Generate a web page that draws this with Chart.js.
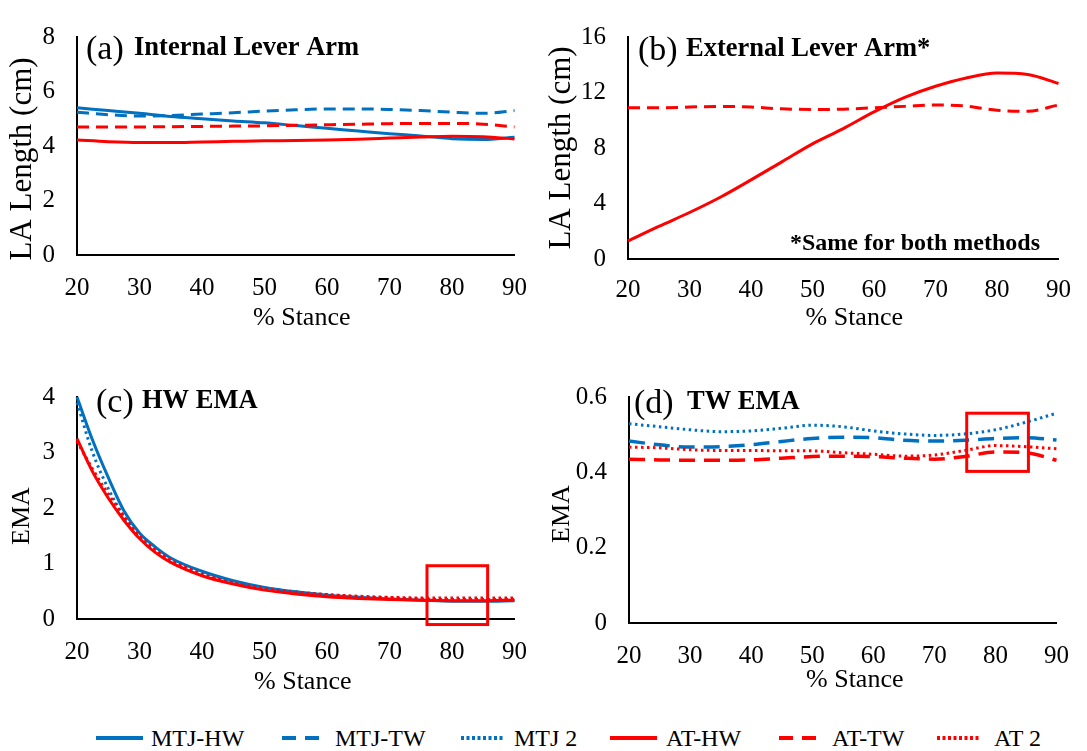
<!DOCTYPE html>
<html>
<head>
<meta charset="utf-8">
<script src="https://cdn.jsdelivr.net/npm/chart.js@4.4.1/dist/chart.umd.min.js"></script>
<style>
    body { margin: 0; background: #fff; width: 1087px; height: 751px; position: relative; overflow: hidden;
           font-family: "Liberation Serif", "Times New Roman", serif; }
    canvas { position: absolute; }
    #legend { position: absolute; left: 0; top: 724px; width: 1087px; height: 28px; }
    .item { position: absolute; top: 0; height: 28px; display: flex; align-items: center; font-size: 24px; color: #000; white-space: nowrap; }
</style>
</head>
<body>
<canvas id="chartA" width="545" height="340" style="left:0;top:0"></canvas>
<canvas id="chartB" width="542" height="340" style="left:545px;top:0"></canvas>
<canvas id="chartC" width="545" height="340" style="left:0;top:360px"></canvas>
<canvas id="chartD" width="542" height="340" style="left:545px;top:360px"></canvas>
<div id="legend"></div>
<script>
// --- Data ---
const stance = [20, 25, 30, 35, 40, 45, 50, 55, 60, 65, 70, 75, 80, 85, 90];
const stanceHw = [20, 22.5, 25, 27.5, 30, 32.5, 35, 40, 45, 50, 55, 60, 65, 70, 75, 80, 85, 90];
const xTicks = [20, 30, 40, 50, 60, 70, 80, 90];

// (a) internal lever arm, cm
const intMtjHw = [5.4, 5.3, 5.2, 5.08, 5.0, 4.92, 4.85, 4.75, 4.65, 4.55, 4.45, 4.37, 4.27, 4.24, 4.32];
const intMtjTw = [5.24, 5.15, 5.1, 5.12, 5.17, 5.22, 5.28, 5.33, 5.36, 5.36, 5.34, 5.3, 5.24, 5.2, 5.3];
const intAtHw = [4.22, 4.16, 4.13, 4.13, 4.15, 4.17, 4.19, 4.2, 4.22, 4.25, 4.29, 4.33, 4.36, 4.34, 4.26];
const intAtTw = [4.7, 4.7, 4.7, 4.71, 4.72, 4.73, 4.74, 4.76, 4.78, 4.8, 4.82, 4.83, 4.83, 4.8, 4.7];

// (b) external lever arm, cm
const extHw = [1.3, 2.35, 3.35, 4.45, 5.7, 7.0, 8.3, 9.4, 10.6, 11.65, 12.45, 13.05, 13.4, 13.3, 12.65];
const extTw = [10.9, 10.9, 10.95, 11.0, 10.95, 10.82, 10.78, 10.8, 10.9, 11.0, 11.1, 11.02, 10.72, 10.65, 11.1];

// (c) HW EMA
const hwMtjHw = [4.0, 3.22, 2.55, 1.95, 1.55, 1.3, 1.1, 0.86, 0.69, 0.57, 0.49, 0.43, 0.39, 0.36, 0.34, 0.32, 0.32, 0.33];
const hwMtj2 = [3.9, 3.0, 2.35, 1.85, 1.48, 1.25, 1.07, 0.84, 0.67, 0.56, 0.49, 0.44, 0.4, 0.38, 0.36, 0.35, 0.35, 0.35];
const hwAtHw = [3.25, 2.65, 2.18, 1.78, 1.45, 1.2, 1.02, 0.78, 0.63, 0.52, 0.45, 0.4, 0.37, 0.35, 0.34, 0.33, 0.33, 0.34];
const hwAt2 = [3.2, 2.7, 2.25, 1.85, 1.5, 1.25, 1.06, 0.81, 0.65, 0.55, 0.48, 0.44, 0.41, 0.39, 0.38, 0.38, 0.38, 0.38];

// (d) TW EMA
const twMtjTw = [0.483, 0.473, 0.467, 0.468, 0.473, 0.482, 0.49, 0.493, 0.492, 0.485, 0.483, 0.485, 0.49, 0.492, 0.486];
const twMtj2 = [0.529, 0.521, 0.513, 0.508, 0.51, 0.517, 0.525, 0.521, 0.51, 0.502, 0.498, 0.502, 0.513, 0.533, 0.557];
const twAtTw = [0.435, 0.433, 0.432, 0.432, 0.433, 0.4375, 0.442, 0.443, 0.442, 0.4375, 0.435, 0.442, 0.454, 0.452, 0.432];
const twAt2 = [0.467, 0.465, 0.46, 0.458, 0.458, 0.457, 0.457, 0.452, 0.448, 0.443, 0.446, 0.458, 0.471, 0.468, 0.4625];

// --- Styles ---
const BLUE = '#0070C0';
const RED = '#FF0000';
const FONT = '"Liberation Serif", "Times New Roman", serif';
const SOLID = [];
const DASH = [12, 7];
const DOT = [2.5, 3.5];

// Builds one line dataset from an x array and a y array.
function line(label, xs, ys, color, dash, width) {
    return {
        label: label,
        data: xs.map((x, i) => ({ x: x, y: ys[i] })),
        borderColor: color,
        borderDash: dash,
        borderWidth: width || 3,
        pointRadius: 0,
        cubicInterpolationMode: 'monotone',
        fill: false,
        clip: false
    };
}

// Draws the panel tag, bold title, axis titles and the red highlight box.
const panelDecor = {
    id: 'panelDecor',
    afterDraw(chart, args, o) {
        const { ctx, chartArea: a, scales } = chart;
        ctx.save();
        ctx.fillStyle = '#000';
        ctx.textBaseline = 'middle';
        ctx.textAlign = 'left';
        ctx.font = '34px ' + FONT;
        ctx.fillText(o.tag, a.left + o.tagDx, a.top + o.tagDy);
        ctx.font = 'bold 26.5px ' + FONT;
        ctx.fillText(o.title, a.left + o.titleDx, a.top + o.tagDy - 2);
        if (o.note) {
            ctx.font = 'bold 24px ' + FONT;
            ctx.fillText(o.note, a.left + o.noteDx, a.bottom - 15);
        }
        // x axis title
        ctx.textAlign = 'center';
        ctx.font = '26px ' + FONT;
        ctx.fillText('% Stance', (a.left + a.right) / 2 + o.xTitleDx, a.bottom + o.xTitleDy);
        // y axis title
        ctx.save();
        ctx.translate(o.yTitleX, (a.top + a.bottom) / 2 + o.yTitleShift);
        ctx.rotate(-Math.PI / 2);
        ctx.font = o.yTitleSize + 'px ' + FONT;
        ctx.fillText(o.yTitle, 0, 0);
        ctx.restore();
        if (o.box) {
            const x0 = scales.x.getPixelForValue(o.box[0]);
            const x1 = scales.x.getPixelForValue(o.box[1]);
            const y0 = scales.y.getPixelForValue(o.box[2]);
            const y1 = scales.y.getPixelForValue(o.box[3]);
            ctx.strokeStyle = RED;
            ctx.lineWidth = 3;
            ctx.strokeRect(x0, y1, x1 - x0, y0 - y1);
        }
        ctx.restore();
    }
};

// Shared chart setup; area is the plot rectangle inside the canvas.
function makeChart(id, datasets, yMax, yStep, area, decor) {
    const canvas = document.getElementById(id);
    const W = canvas.width, H = canvas.height;
    return new Chart(canvas.getContext('2d'), {
        type: 'line',
        data: { datasets: datasets.map((d, i) => Object.assign(d, { order: datasets.length - i })) },
        options: {
            responsive: false,
            animation: false,
            layout: { padding: { top: area.top, right: W - area.right, bottom: 0, left: 0 } },
            plugins: { legend: { display: false }, tooltip: { enabled: false }, panelDecor: decor },
            scales: {
                x: {
                    type: 'linear', min: 20, max: 90,
                    afterBuildTicks: axis => { axis.ticks = xTicks.map(v => ({ value: v })); },
                    afterFit: axis => { axis.height = H - area.bottom; },
                    grid: { display: false, drawTicks: false },
                    border: { display: true, color: '#000', width: 2 },
                    ticks: { color: '#000', padding: area.tickPad, maxRotation: 0, font: { family: FONT, size: 25 } }
                },
                y: {
                    min: 0, max: yMax,
                    afterFit: axis => { axis.width = area.left; },
                    grid: { display: false, drawTicks: false },
                    border: { display: true, color: '#000', width: 2 },
                    ticks: { stepSize: yStep, color: '#000', padding: 22, font: { family: FONT, size: 25 } }
                }
            }
        },
        plugins: [panelDecor]
    });
}

document.addEventListener('DOMContentLoaded', () => {
    // (a) Internal lever arm
    makeChart('chartA', [
        line('MTJ-HW', stance, intMtjHw, BLUE, SOLID),
        line('MTJ-TW', stance, intMtjTw, BLUE, DASH),
        line('AT-HW', stance, intAtHw, RED, SOLID),
        line('AT-TW', stance, intAtTw, RED, DASH)
    ], 8, 2, { left: 77, right: 527, top: 20, bottom: 255, tickPad: 18 },
    { tag: '(a)', tagDx: 9, tagDy: 13, title: 'Internal Lever Arm', titleDx: 57,
      xTitleDx: 6, xTitleDy: 63,
      yTitle: 'LA Length (cm)', yTitleSize: 31, yTitleX: 23, yTitleShift: 13 });

    // (b) External lever arm
    makeChart('chartB', [
        line('AT-HW', stance, extHw, RED, SOLID),
        line('AT-TW', stance, extTw, RED, DASH)
    ], 16, 4, { left: 83, right: 523, top: 20, bottom: 259, tickPad: 16 },
    { tag: '(b)', tagDx: 10, tagDy: 14, title: 'External Lever Arm*', titleDx: 58,
      note: '*Same for both methods', noteDx: 162,
      xTitleDx: 11, xTitleDy: 59,
      yTitle: 'LA Length (cm)', yTitleSize: 31, yTitleX: 17, yTitleShift: 0 });

    // (c) HW EMA
    makeChart('chartC', [
        line('MTJ-HW', stanceHw, hwMtjHw, BLUE, SOLID),
        line('MTJ 2', stanceHw, hwMtj2, BLUE, DOT),
        line('AT-HW', stanceHw, hwAtHw, RED, SOLID),
        line('AT 2', stanceHw, hwAt2, RED, DOT)
    ], 4, 1, { left: 77, right: 517, top: 22, bottom: 259, tickPad: 18 },
    { tag: '(c)', tagDx: 19, tagDy: 6, title: 'HW EMA', titleDx: 65,
      xTitleDx: 7, xTitleDy: 63,
      yTitle: 'EMA', yTitleSize: 26, yTitleX: 22, yTitleShift: 8, box: [76, 85.7, -0.1, 0.96] });

    // (d) TW EMA
    makeChart('chartD', [
        line('MTJ-TW', stance, twMtjTw, BLUE, [16, 9], 3.5),
        line('MTJ 2', stance, twMtj2, BLUE, DOT),
        line('AT-TW', stance, twAtTw, RED, [16, 9], 3.5),
        line('AT 2', stance, twAt2, RED, DOT)
    ], 0.6, 0.2, { left: 84, right: 523, top: 23, bottom: 263, tickPad: 18 },
    { tag: '(d)', tagDx: 5, tagDy: 7, title: 'TW EMA', titleDx: 58,
      xTitleDx: 12, xTitleDy: 57,
      yTitle: 'EMA', yTitleSize: 26, yTitleX: 17, yTitleShift: 4, box: [75.3, 85.4, 0.4025, 0.557] });

    // --- Shared legend ---
    const legendItems = [
        { label: 'MTJ-HW', color: BLUE, dash: '', left: 96, w: 47, gap: 8 },
        { label: 'MTJ-TW', color: BLUE, dash: '14 9', left: 282, w: 37, gap: 16 },
        { label: 'MTJ 2', color: BLUE, dash: '3 2.5', left: 461, w: 43, gap: 10 },
        { label: 'AT-HW', color: RED, dash: '', left: 610, w: 47, gap: 9 },
        { label: 'AT-TW', color: RED, dash: '14 9', left: 779, w: 37, gap: 16 },
        { label: 'AT 2', color: RED, dash: '3 2.5', left: 937, w: 43, gap: 14 }
    ];
    const legend = document.getElementById('legend');
    legendItems.forEach(it => {
        const div = document.createElement('div');
        div.className = 'item';
        div.style.left = it.left + 'px';
        div.innerHTML = '<svg width="' + it.w + '" height="6" style="margin-right:' + it.gap + 'px">' +
            '<line x1="0" y1="3" x2="' + it.w + '" y2="3" stroke="' + it.color + '" stroke-width="4"' +
            (it.dash ? ' stroke-dasharray="' + it.dash + '"' : '') + '/></svg><span>' + it.label + '</span>';
        legend.appendChild(div);
    });
});
</script>
</body>
</html>
